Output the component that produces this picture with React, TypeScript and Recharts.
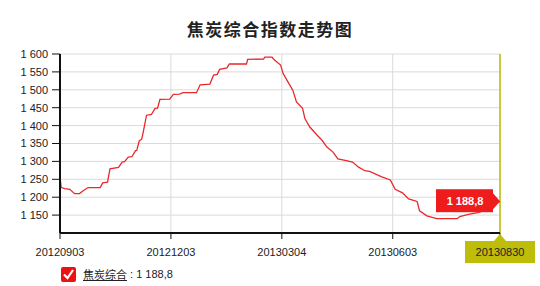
import React from "react";
import {
  LineChart,
  Line,
  XAxis,
  YAxis,
  CartesianGrid,
  ReferenceLine,
  ReferenceDot,
} from "recharts";

const TITLE = "焦炭综合指数走势图";
const SERIES_NAME = "焦炭综合";
const LAST_LABEL = "1 188,8";

const dates = [
  "2012-09-03", "2012-09-04", "2012-09-07", "2012-09-11", "2012-09-15", "2012-09-19",
  "2012-09-22", "2012-09-26", "2012-10-06", "2012-10-08", "2012-10-12", "2012-10-14",
  "2012-10-21", "2012-10-24", "2012-10-26", "2012-10-29", "2012-11-01", "2012-11-04",
  "2012-11-05", "2012-11-07", "2012-11-09", "2012-11-10", "2012-11-13", "2012-11-17",
  "2012-11-20", "2012-11-22", "2012-11-24", "2012-12-02", "2012-12-05", "2012-12-10",
  "2012-12-13", "2012-12-24", "2012-12-27", "2013-01-04", "2013-01-07", "2013-01-10",
  "2013-01-12", "2013-01-18", "2013-01-20", "2013-02-03", "2013-02-04", "2013-02-17",
  "2013-02-18", "2013-02-24", "2013-02-26", "2013-03-03", "2013-03-05", "2013-03-09",
  "2013-03-13", "2013-03-16", "2013-03-21", "2013-03-23", "2013-03-27", "2013-04-02",
  "2013-04-06", "2013-04-10", "2013-04-15", "2013-04-19", "2013-04-26", "2013-05-01",
  "2013-05-06", "2013-05-11", "2013-05-15", "2013-05-25", "2013-06-01", "2013-06-05",
  "2013-06-11", "2013-06-16", "2013-06-23", "2013-06-25", "2013-07-01", "2013-07-09",
  "2013-07-26", "2013-07-28", "2013-08-05", "2013-08-12", "2013-08-19", "2013-08-30",
];

const values = [
  1256, 1227, 1224, 1222, 1210, 1210, 1218, 1227, 1227, 1240, 1242, 1279,
  1283, 1298, 1299, 1312, 1313, 1330, 1331, 1357, 1362, 1377, 1429, 1431,
  1448, 1449, 1473, 1474, 1487, 1488, 1492, 1492, 1514, 1516, 1541, 1543,
  1557, 1561, 1572, 1572, 1585, 1586, 1591, 1591, 1583, 1569, 1546, 1522,
  1499, 1466, 1448, 1419, 1396, 1373, 1359, 1340, 1326, 1307, 1302, 1298,
  1284, 1274, 1272, 1257, 1248, 1222, 1212, 1195, 1188, 1162, 1148, 1140,
  1140, 1146, 1153, 1157, 1165, 1188.8,
];

const xTickDates = ["2012-09-03", "2012-12-03", "2013-03-04", "2013-06-03", "2013-08-30"];
const yTicks = [1150, 1200, 1250, 1300, 1350, 1400, 1450, 1500, 1550, 1600];

const toTime = (d: string) => Date.parse(d + "T00:00:00Z");
const fmtDate = (t: number) => new Date(t).toISOString().slice(0, 10).replace(/-/g, "");
const fmtNum = (v: number) => `${Math.floor(v / 1000)} ${String(v % 1000).padStart(3, "0")}`;

const data = dates.map((d, i) => ({ t: toTime(d), v: values[i] }));
const xTicks = xTickDates.map(toTime);
const lastT = xTicks[xTicks.length - 1];
const lastV = values[values.length - 1];

const FONT = "'Liberation Sans', Arial, sans-serif";
const OLIVE = "#bdbd0a";
const RED = "#ee1c1c";

function XTick(props: any) {
  const { x, y, payload } = props;
  const isLast = payload.value === lastT;
  return (
    <g transform={`translate(${x},${y})`}>
      {isLast && (
        <>
          <polygon points="-6,0 0,-7 6,0" fill={OLIVE} />
          <rect x={-35} y={0} width={70} height={22} fill={OLIVE} />
        </>
      )}
      <text x={0} y={0} dy={15} textAnchor="middle" fontSize={11} fontFamily={FONT} fill="#222">
        {fmtDate(payload.value)}
      </text>
    </g>
  );
}

function ValueFlag(props: any) {
  const { cx, cy } = props;
  return (
    <g transform={`translate(${cx},${cy})`}>
      <rect x={-64} y={-12} width={57} height={23} fill={RED} />
      <polygon points="-7,-8 0,0 -7,8" fill={RED} />
      <text x={-35} y={4} textAnchor="middle" fontSize={11} fontWeight="bold" fontFamily={FONT} fill="#fff">
        {LAST_LABEL}
      </text>
    </g>
  );
}

export default function App() {
  return (
    <div style={{ position: "absolute", left: 0, top: 0, width: 540, height: 286, background: "#fff" }}>
      <div
        style={{
          position: "absolute",
          left: 0,
          width: 540,
          top: 18,
          textAlign: "center",
          fontFamily: "'Noto Sans CJK SC', sans-serif",
          fontWeight: "bold",
          fontSize: 17,
          letterSpacing: 1.5,
          color: "#222",
          lineHeight: "22px",
        }}
      >
        {TITLE}
      </div>
      <LineChart width={540} height={286} data={data} margin={{ top: 54, right: 40, bottom: 23, left: 0 }}>
        <CartesianGrid stroke="#dadada" />
        <XAxis
          type="number"
          dataKey="t"
          domain={[xTicks[0], lastT]}
          ticks={xTicks}
          interval={0}
          height={30}
          tickSize={6}
          tick={<XTick />}
          axisLine={{ stroke: "#111", strokeWidth: 2 }}
          tickLine={{ stroke: "#111" }}
        />
        <YAxis
          type="number"
          domain={[1100, 1600]}
          ticks={yTicks}
          interval={0}
          width={60}
          tickSize={8}
          tickMargin={4}
          tickFormatter={fmtNum}
          tick={{ fontSize: 11, fontFamily: FONT, fill: "#222" }}
          axisLine={{ stroke: "#111", strokeWidth: 2 }}
          tickLine={{ stroke: "#111" }}
        />
        <ReferenceLine x={lastT} stroke={OLIVE} strokeWidth={1.5} />
        <Line
          type="linear"
          dataKey="v"
          stroke="#e8292c"
          strokeWidth={1.3}
          dot={false}
          isAnimationActive={false}
        />
        <ReferenceDot x={lastT} y={lastV} ifOverflow="visible" shape={<ValueFlag />} />
      </LineChart>
      <div
        style={{
          position: "absolute",
          left: 61,
          top: 266,
          display: "flex",
          alignItems: "center",
          fontFamily: FONT,
          fontSize: 11,
          color: "#222",
        }}
      >
        <svg width={15} height={15} style={{ marginRight: 7 }}>
          <rect x={0} y={0} width={15} height={15} rx={2} fill="#ee1111" />
          <polyline points="3,7.5 6.5,11 12,3" fill="none" stroke="#fff" strokeWidth={2.2} />
        </svg>
        <span style={{ textDecoration: "underline", fontFamily: "'Noto Sans CJK SC', sans-serif" }}>{SERIES_NAME}</span>
        <span>&nbsp;: {LAST_LABEL}</span>
      </div>
    </div>
  );
}
